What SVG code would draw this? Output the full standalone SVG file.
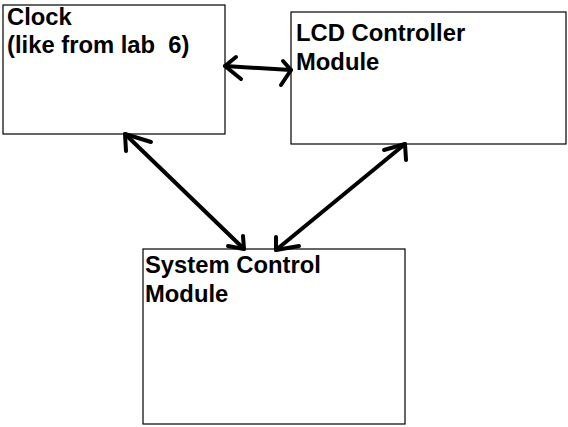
<svg xmlns="http://www.w3.org/2000/svg" width="568" height="427" viewBox="0 0 568 427">
<style>
.box{fill:#fff;stroke:#000;stroke-width:1.2}
.lbl{font-family:"Liberation Sans",Arial,sans-serif;font-weight:bold;font-size:23.8px;fill:#000}
.ar{fill:none;stroke:#000;stroke-width:4;stroke-linecap:round;stroke-linejoin:round}
</style>
<rect width="568" height="427" fill="#fff"/>
<g id="clock">
<rect class="box" x="3" y="5" width="222" height="129"/>
<text class="lbl" x="7" y="25">Clock</text>
<text class="lbl" x="7" y="53" xml:space="preserve">(like from lab  6)</text>
</g>
<g id="lcd">
<rect class="box" x="291" y="12" width="275" height="132"/>
<text class="lbl" x="296" y="41">LCD Controller</text>
<text class="lbl" x="296" y="70">Module</text>
</g>
<g id="system">
<rect class="box" x="143" y="249" width="262" height="175"/>
<text class="lbl" x="145" y="273">System Control</text>
<text class="lbl" x="145" y="302">Module</text>
</g>
<g id="connectors">
<path class="ar" d="M225 66 L291 70"/>
<path class="ar" d="M236 57 L225 66 L241 79"/>
<path class="ar" d="M283 61 L291 70 L281 85"/>
<path class="ar" d="M125 134 L244 249"/>
<path class="ar" d="M151 142 L125 134 L126 151"/>
<path class="ar" d="M243 236 L244 249 L228 246"/>
<path class="ar" d="M405 144 L276 250"/>
<path class="ar" d="M384 150 L405 144 L406 160"/>
<path class="ar" d="M276 237 L276 250 L299 246"/>
</g>
</svg>
